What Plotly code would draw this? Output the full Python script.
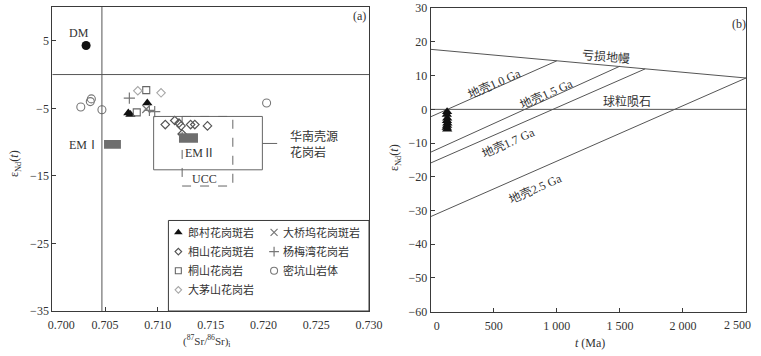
"""Sr-Nd isotope plots: (a) eNd(t) vs (87Sr/86Sr)i, (b) eNd(t) vs t"""
import plotly.graph_objects as go

# ---- panel (a) data ----
dm_sr = [0.7032]
dm_nd = [4.3]

langcun_sr = [0.7090, 0.7072, 0.7074]
langcun_nd = [-4.2, -5.7, -5.9]

xiangshan_sr = [0.7107, 0.7116, 0.7120, 0.7122, 0.7123, 0.7131, 0.7135, 0.7147]
xiangshan_nd = [-7.4, -6.8, -7.2, -7.6, -8.8, -7.4, -7.4, -7.6]

tongshan_sr = [0.7089, 0.7080]
tongshan_nd = [-2.3, -5.6]

damaoshan_sr = [0.7081, 0.7103]
damaoshan_nd = [-2.4, -2.7]

daqiaowu_sr = [0.7089]
daqiaowu_nd = [-5.1]

yangmeiwan_sr = [0.7073, 0.7092, 0.7097]
yangmeiwan_nd = [-3.5, -5.3, -5.5]

mikengshan_sr = [0.7027, 0.7036, 0.7037, 0.7047, 0.7203]
mikengshan_nd = [-4.8, -4.0, -3.6, -5.2, -4.2]

# reservoir fields (x0, x1, y0, y1)
em1_box = [0.7049, 0.7065, -9.7, -11.0]
em2_box = [0.7120, 0.7138, -8.7, -10.1]
sc_granite_box = [0.7096, 0.7199, -6.2, -14.1]
ucc_box = [0.7123, 0.7171, -6.2, -16.5]

# ---- panel (b) data ----
t_dm = [0, 2500]
eps_dm = [17.8, 9.3]
t_chur = [0, 2500]
eps_chur = [0, 0]
crust_names = ["地壳1.0 Ga", "地壳1.5 Ga", "地壳1.7 Ga", "地壳2.5 Ga"]
crust_t = [[0, 1000], [0, 1500], [0, 1700], [0, 2500]]
crust_eps = [[-2.2, 14.4], [-12.7, 12.8], [-15.9, 12.0], [-31.8, 9.3]]
crust_label_t = [503, 921, 616, 828]
crust_label_eps = [7.6, 4.7, -9.9, -23.5]

lc_age = [130, 128, 131, 129, 132, 130, 127, 131]
lc_eps = [-0.7, -1.5, -2.6, -3.4, -4.1, -4.8, -5.4, -5.9]

legend_names = ["郎村花岗斑岩", "相山花岗斑岩", "桐山花岗岩", "大茅山花岗岩",
                "大桥坞花岗斑岩", "杨梅湾花岗岩", "密坑山岩体"]

FONT = "Liberation Serif, Noto Sans CJK SC"
AX = "#3a3a3a"
LINE = "#555555"
GREY = "#6e6e6e"
NB = "\u00a0"

styles = {
    "郎村花岗斑岩": dict(symbol="triangle-up", color="#111111", size=9),
    "相山花岗斑岩": dict(symbol="diamond-open", color="#555555", size=6.5, line=dict(width=1.2)),
    "桐山花岗岩": dict(symbol="square-open", color="#666666", size=7, line=dict(width=1.1)),
    "大茅山花岗岩": dict(symbol="diamond-open", color="#a8a8a8", size=6.5, line=dict(width=1.1)),
    "大桥坞花岗斑岩": dict(symbol="x-thin-open", color="#777777", size=8, line=dict(width=1.2)),
    "杨梅湾花岗岩": dict(symbol="cross-thin-open", color="#777777", size=8, line=dict(width=1.2)),
    "密坑山岩体": dict(symbol="circle-open", color="#777777", size=8, line=dict(width=1.1)),
}
legend_sizes = {"郎村花岗斑岩": 7.5, "相山花岗斑岩": 5, "桐山花岗岩": 6, "大茅山花岗岩": 5,
                "大桥坞花岗斑岩": 7, "杨梅湾花岗岩": 7, "密坑山岩体": 7}

series = {
    "郎村花岗斑岩": (langcun_sr, langcun_nd),
    "相山花岗斑岩": (xiangshan_sr, xiangshan_nd),
    "桐山花岗岩": (tongshan_sr, tongshan_nd),
    "大茅山花岗岩": (damaoshan_sr, damaoshan_nd),
    "大桥坞花岗斑岩": (daqiaowu_sr, daqiaowu_nd),
    "杨梅湾花岗岩": (yangmeiwan_sr, yangmeiwan_nd),
    "密坑山岩体": (mikengshan_sr, mikengshan_nd),
}

fig = go.Figure()

# panel (a) points
for name, (xs, ys) in series.items():
    fig.add_trace(go.Scatter(x=xs, y=ys, mode="markers", marker=styles[name],
                             xaxis="x", yaxis="y", showlegend=False))
fig.add_trace(go.Scatter(x=dm_sr, y=dm_nd, mode="markers",
                         marker=dict(symbol="circle", color="#111111", size=9),
                         xaxis="x", yaxis="y", showlegend=False))

# panel (b) lines
fig.add_trace(go.Scatter(x=t_dm, y=eps_dm, mode="lines", line=dict(color=LINE, width=1),
                         xaxis="x2", yaxis="y2", showlegend=False))
fig.add_trace(go.Scatter(x=t_chur, y=eps_chur, mode="lines", line=dict(color=LINE, width=1),
                         xaxis="x2", yaxis="y2", showlegend=False))
for ts, es in zip(crust_t, crust_eps):
    fig.add_trace(go.Scatter(x=ts, y=es, mode="lines", line=dict(color=LINE, width=1),
                             xaxis="x2", yaxis="y2", showlegend=False))
fig.add_trace(go.Scatter(x=lc_age, y=lc_eps, mode="markers",
                         marker=styles["郎村花岗斑岩"], xaxis="x2", yaxis="y2",
                         showlegend=False))

# hand-drawn legend inside panel (a) on an overlay axis
col_x = [0.05, 0.527]
for i, name in enumerate(legend_names):
    col = 0 if i < 4 else 1
    row = i if i < 4 else i - 4
    ly = 0.87 - 0.212 * row
    mk = dict(styles[name], size=legend_sizes[name])
    fig.add_trace(go.Scatter(x=[col_x[col]], y=[ly], mode="markers", marker=mk,
                             xaxis="x3", yaxis="y3", showlegend=False))
    fig.add_annotation(x=col_x[col] + 0.036, y=ly, xref="x3", yref="y3", text=name,
                       showarrow=False, xanchor="left", yanchor="middle",
                       font=dict(size=11, color="#333"))

shapes = []
# reference lines in (a)
shapes.append(dict(type="line", xref="x", yref="y", x0=0.7047, x1=0.7047, y0=-35, y1=10,
                   line=dict(color=LINE, width=1)))
shapes.append(dict(type="line", xref="x", yref="y", x0=0.700, x1=0.730, y0=0, y1=0,
                   line=dict(color=LINE, width=1)))
shapes.append(dict(type="rect", xref="x", yref="y", x0=sc_granite_box[0], x1=sc_granite_box[1],
                   y0=sc_granite_box[2], y1=sc_granite_box[3], line=dict(color="#666", width=1)))
shapes.append(dict(type="line", xref="x", yref="y", x0=sc_granite_box[1], x1=0.7213,
                   y0=-10.2, y1=-10.2, line=dict(color="#666", width=1)))
shapes.append(dict(type="rect", xref="x", yref="y", x0=ucc_box[0], x1=ucc_box[1],
                   y0=ucc_box[2], y1=ucc_box[3], line=dict(color="#666", width=1, dash="dash")))
for b in (em1_box, em2_box):
    shapes.append(dict(type="rect", xref="x", yref="y", x0=b[0], x1=b[1], y0=b[2], y1=b[3],
                       fillcolor=GREY, line=dict(width=0), layer="above"))
# legend frame
shapes.append(dict(type="rect", xref="x", yref="y", x0=0.7110, x1=0.730, y0=-35, y1=-21.6,
                   line=dict(color=AX, width=1)))

ann = [
    dict(x=0.7025, y=6.2, xref="x", yref="y", text="DM", font=dict(size=12)),
    dict(x=0.7291, y=8.6, xref="x", yref="y", text="(a)", font=dict(size=12)),
    dict(x=0.7030, y=-10.5, xref="x", yref="y", text="EMⅠ", font=dict(size=12)),
    dict(x=0.7140, y=-11.6, xref="x", yref="y", text="EMⅡ", font=dict(size=12)),
    dict(x=0.7144, y=-15.4, xref="x", yref="y", text="UCC", font=dict(size=12)),
    dict(x=0.7223, y=-10.4, xref="x", yref="y", text="华南壳源<br>花岗岩", xanchor="left",
         align="left", font=dict(size=12)),
    dict(x=2442, y=25.3, xref="x2", yref="y2", text="(b)", font=dict(size=12)),
    dict(x=1389, y=15.6, xref="x2", yref="y2", text="亏损地幔", textangle=5, font=dict(size=12)),
    dict(x=1556, y=2.2, xref="x2", yref="y2", text="球粒陨石", font=dict(size=12)),
    # last tick label of (b), pulled in from the frame edge as in the original
    dict(x=2430, y=1 - 325 / 356, xref="x2", yref="paper", text="2 500",
         font=dict(size=12, color="#333")),
    # axis titles
    dict(x=15 / 761, y=1 - 164 / 356, xref="paper", yref="paper", textangle=-90,
         text="ε<sub>Nd</sub>(<i>t</i>)", font=dict(size=12)),
    dict(x=395 / 761, y=1 - 158 / 356, xref="paper", yref="paper", textangle=-90,
         text="ε<sub>Nd</sub>(<i>t</i>)", font=dict(size=12)),
    dict(x=206.7 / 761, y=1 - 341 / 356, xref="paper", yref="paper",
         text="(<sup>87</sup>Sr/<sup>86</sup>Sr)<sub>i</sub>", font=dict(size=11)),
    dict(x=590 / 761, y=1 - 343 / 356, xref="paper", yref="paper",
         text="<i>t</i> (Ma)", font=dict(size=12)),
]
for nm, lt, le in zip(crust_names, crust_label_t, crust_label_eps):
    ann.append(dict(x=lt, y=le, xref="x2", yref="y2", text=nm, textangle=-24,
                    font=dict(size=12)))
for a in ann:
    a.setdefault("showarrow", False)
    a.setdefault("xanchor", "center")
    a.setdefault("yanchor", "middle")
    fig.add_annotation(**a)

axis_common = dict(showline=True, mirror=True, linecolor=AX, linewidth=1, ticks="inside",
                   ticklen=4, tickcolor=AX, showgrid=False, zeroline=False,
                   tickfont=dict(size=12, color="#333"), automargin=False)

fig.update_layout(
    width=761, height=356,
    margin=dict(l=0, r=0, t=0, b=0),
    paper_bgcolor="white", plot_bgcolor="white",
    font=dict(family=FONT, size=12, color="#333"),
    shapes=shapes,
    xaxis=dict(domain=[52.3 / 761, 369 / 761], range=[0.700, 0.730], anchor="y",
               tickvals=[0.700, 0.705, 0.710, 0.715, 0.720, 0.725, 0.730],
               ticktext=[NB * 6 + "0.700", "0.705", "0.710", "0.715", "0.720", "0.725",
                         "0.730"],
               ticklabelstandoff=3, ticklabeloverflow="allow", **axis_common),
    yaxis=dict(domain=[1 - 311 / 356, 1 - 7 / 356], range=[-35, 10], anchor="x",
               tickvals=[-35, -25, -15, -5, 5], **axis_common),
    xaxis2=dict(domain=[430.7 / 761, 746 / 761], range=[0, 2500], anchor="y2",
                tickvals=[0, 500, 1000, 1500, 2000, 2500],
                ticktext=[NB * 4 + "0", "500", "1 000", "1 500", "2 000", ""],
                ticklabelstandoff=3, ticklabeloverflow="allow", **axis_common),
    yaxis2=dict(domain=[1 - 311.7 / 356, 1 - 8.2 / 356], range=[-60, 30], anchor="x2",
                tickvals=[-60, -50, -40, -30, -20, -10, 0, 10, 20, 30], **axis_common),
    xaxis3=dict(domain=[168.3 / 761, 369 / 761], range=[0, 1], anchor="y3", visible=False),
    yaxis3=dict(domain=[1 - 311 / 356, 1 - 220.7 / 356], range=[0, 1], anchor="x3",
                visible=False),
)

# the page body has a default 8px margin; drop it so the figure sits at the corner
fig.write_html("out.html", config={"displayModeBar": False},
               post_script="document.body.style.margin='0';")
